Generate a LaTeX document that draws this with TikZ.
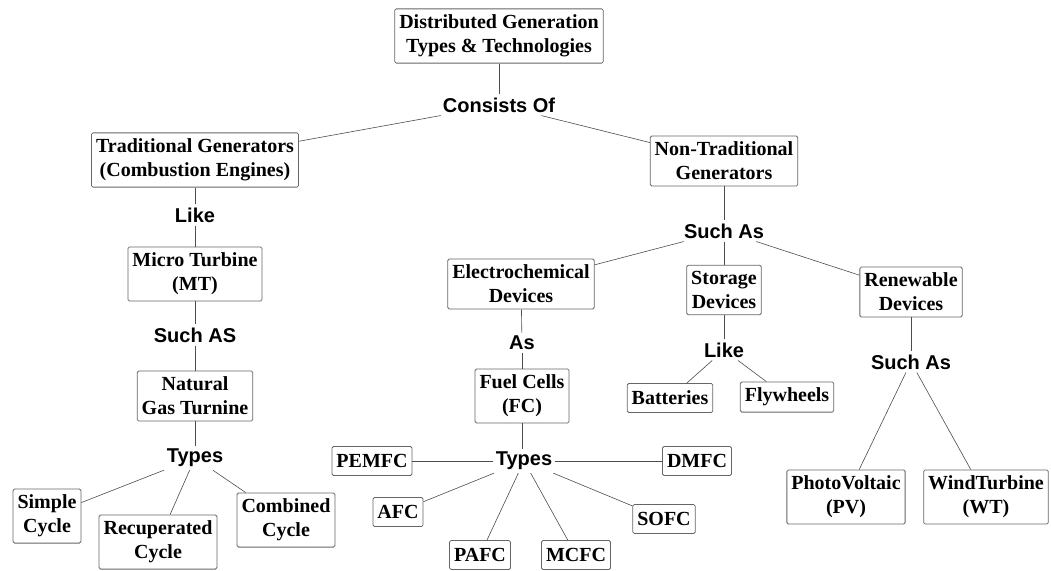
\documentclass[tikz,border=0pt]{standalone}
\usepackage{fontspec}
\setmainfont{Liberation Serif}
\setsansfont{Liberation Sans}

\begin{document}
\begin{tikzpicture}[x=1pt,y=-1pt,
 b/.style={draw=black!60,line width=.8pt,rounded corners=1.5pt,align=center,
  inner xsep=4.5pt,inner ysep=6pt,minimum height=29pt,
  font=\fontsize{20}{24}\selectfont\bfseries},
 l/.style={inner sep=3pt,font=\fontsize{20}{24}\selectfont\sffamily\bfseries},
 c/.style={draw=black!70,line width=.6pt}]
\useasboundingbox (0,0) rectangle (1051,570);
% Top of the tree
\node[b] (dg) at (499,36) {Distributed Generation\\Types \& Technologies};
\node[l] (cons) at (499,105) {Consists Of};
\node[b] (trad) at (195,160) {Traditional Generators\\(Combustion Engines)};
\node[b] (ntrad) at (724,161) {Non-Traditional\\Generators};
\draw[c] (dg) -- (cons);
\draw[c] (cons) -- (trad);
\draw[c] (cons) -- (ntrad);
% Traditional branch
\node[l] (like1) at (195,215) {Like};
\node[b] (mt) at (195,274) {Micro Turbine\\(MT)};
\node[l] (such1) at (195,335) {Such AS};
\node[b] (ngt) at (195,396) {Natural\\Gas Turnine};
\node[l] (types1) at (195,458) {Types};
\node[b] (simple) at (47,516) {Simple\\Cycle};
\node[b] (recup) at (158,542) {Recuperated\\Cycle};
\node[b] (comb) at (286,520) {Combined\\Cycle};
\draw[c] (trad) -- (like1);
\draw[c] (like1) -- (mt);
\draw[c] (mt) -- (such1);
\draw[c] (such1) -- (ngt);
\draw[c] (ngt) -- (types1);
\draw[c] (types1) -- (simple);
\draw[c] (types1) -- (recup);
\draw[c] (types1) -- (comb);
% Non-traditional branch
\node[l] (such2) at (724,231) {Such As};
\node[b] (elec) at (521,284) {Electrochemical\\Devices};
\node[b] (stor) at (724,290) {Storage\\Devices};
\node[b] (renew) at (911,292) {Renewable\\Devices};
\draw[c] (ntrad) -- (such2);
\draw[c] (such2) -- (elec);
\draw[c] (such2) -- (stor);
\draw[c] (such2) -- (renew);
% Fuel cells
\node[l] (as) at (522,343) {As};
\node[b] (fc) at (522,396) {Fuel Cells\\(FC)};
\node[l] (types2) at (524,461) {Types};
\node[b] (pemfc) at (372,461) {PEMFC};
\node[b] (dmfc) at (697,461) {DMFC};
\node[b] (afc) at (398,512) {AFC};
\node[b] (pafc) at (480,555) {PAFC};
\node[b] (mcfc) at (576,555) {MCFC};
\node[b] (sofc) at (664,519) {SOFC};
\draw[c] (elec) -- (as);
\draw[c] (as) -- (fc);
\draw[c] (fc) -- (fc |- types2.north);
\draw[c] (types2) -- (pemfc);
\draw[c] (types2) -- (dmfc);
\draw[c] (types2) -- (afc);
\draw[c] (types2) -- (pafc);
\draw[c] (types2) -- (mcfc);
\draw[c] (types2) -- (sofc);
% Storage and renewables
\node[l] (like2) at (724,350) {Like};
\node[b] (batt) at (670,398) {Batteries};
\node[b] (fly) at (787,397) {Flywheels};
\draw[c] (stor) -- (like2);
\draw[c] (like2) -- (batt);
\draw[c] (like2) -- (fly);
\node[l] (such3) at (911,362) {Such As};
\node[b] (pv) at (846,497) {PhotoVoltaic\\(PV)};
\node[b] (wt) at (986,497) {WindTurbine\\(WT)};
\draw[c] (renew) -- (such3);
\draw[c] (such3) -- (pv);
\draw[c] (such3) -- (wt);
\end{tikzpicture}
\end{document}
